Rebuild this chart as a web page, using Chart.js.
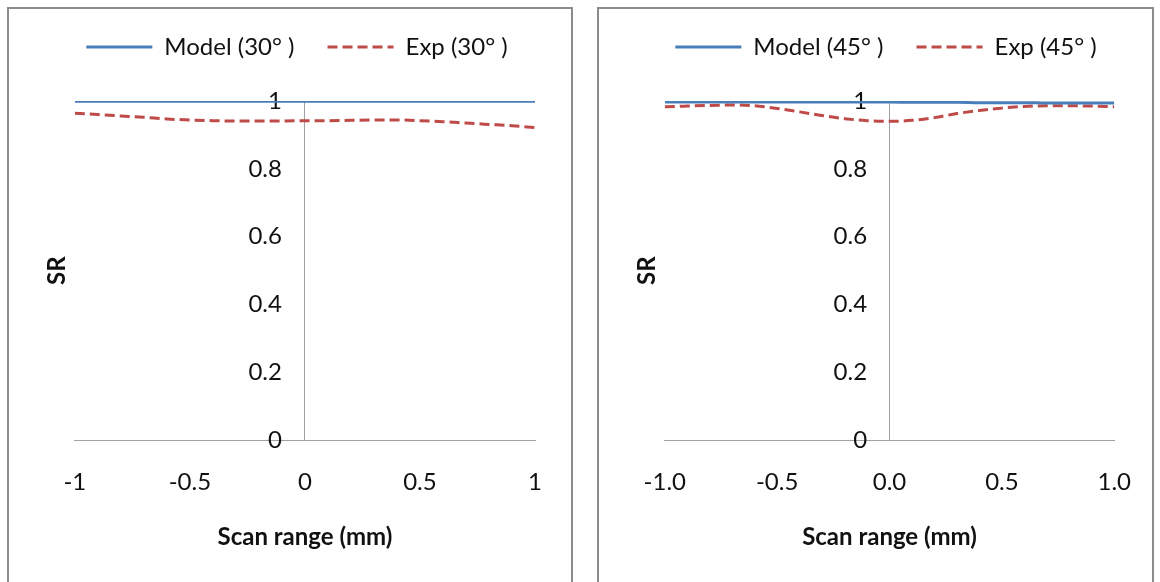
<!DOCTYPE html>
<html>
<head>
<meta charset="utf-8">
<script src="https://cdn.jsdelivr.net/npm/chart.js@4.4.1/dist/chart.umd.min.js"></script>
<style>
  html, body { margin: 0; padding: 0; background: #fff; width: 1160px; height: 582px; overflow: hidden; }
  .panel { position: absolute; top: 7px; height: 600px; border: 2px solid #8c8c8c; box-sizing: border-box; background: #fff; }
  #panel30 { left: 7px; width: 566px; }
  #panel45 { left: 597px; width: 557px; }
  .panel canvas { position: absolute; left: 0; top: 0; }
</style>
</head>
<body>
<div class="panel" id="panel30"><canvas id="chart30" width="562" height="573"></canvas></div>
<div class="panel" id="panel45"><canvas id="chart45" width="559" height="573"></canvas></div>
<script>
// Scan positions (mm)
const scanX = [-1.0, -0.9, -0.8, -0.7, -0.6, -0.5, -0.4, -0.3, -0.2, -0.1, 0.0,
               0.1, 0.2, 0.3, 0.4, 0.5, 0.6, 0.7, 0.8, 0.9, 1.0];

// SR at 30 degrees
const model30 = [0.999, 0.999, 0.999, 0.999, 0.999, 0.999, 0.999, 0.999, 0.999, 0.999, 0.999,
                 0.999, 0.999, 0.999, 0.999, 0.999, 0.999, 0.999, 0.999, 0.999, 0.999];
const exp30 = [0.964, 0.960, 0.956, 0.952, 0.947, 0.944, 0.942, 0.941, 0.941, 0.941, 0.942,
               0.942, 0.943, 0.944, 0.944, 0.942, 0.939, 0.935, 0.931, 0.927, 0.922];

// SR at 45 degrees
const model45 = [0.997, 0.997, 0.997, 0.997, 0.997, 0.997, 0.997, 0.997, 0.997, 0.997, 0.997,
                 0.996, 0.996, 0.996, 0.995, 0.995, 0.995, 0.994, 0.994, 0.994, 0.994];
const exp45 = [0.983, 0.985, 0.987, 0.988, 0.986, 0.978, 0.968, 0.957, 0.948, 0.942, 0.940,
               0.943, 0.951, 0.963, 0.972, 0.979, 0.984, 0.986, 0.986, 0.985, 0.983];

// Tick labels and series names
const xTicks30 = ['-1', '-0.5', '0', '0.5', '1'];
const xTicks45 = ['-1.0', '-0.5', '0.0', '0.5', '1.0'];
const yTicks = ['0', '0.2', '0.4', '0.6', '0.8', '1'];
const names30 = ['Model (30° )', 'Exp (30° )'];
const names45 = ['Model (45° )', 'Exp (45° )'];
const xTitle = 'Scan range (mm)';
const yTitle = 'SR';

// The value-axis labels sit a little to the left of the x = 0 axis line
const yLabelAt = -0.1;

const FONT = "Lato, 'Open Sans', sans-serif";
const TEXT = '#111111';
const AXIS = '#a0a0a0';
const BLUE = '#4a7ebb';
const RED = '#be4b48';

Chart.defaults.font.family = FONT;
Chart.defaults.color = TEXT;

// Moves the legend block after layout (Excel-style legend placement)
const legendNudge = {
  id: 'legendNudge',
  afterLayout(chart, args, opts) {
    const lg = chart.legend;
    if (!lg) return;
    const dx = opts.dx || 0, dy = opts.dy || 0;
    lg.left += dx; lg.right += dx;
    lg.top += dy; lg.bottom += dy;
  }
};

// Legend samples use each dataset's own line style (width, dash)
function lineLegendLabels(chart) {
  const items = Chart.defaults.plugins.legend.labels.generateLabels(chart);
  items.forEach(it => {
    const ds = chart.data.datasets[it.datasetIndex];
    it.lineDash = ds.borderDash || [];
    it.lineWidth = ds.borderWidth;
    it.strokeStyle = ds.borderColor;
    it.lineCap = 'butt';
  });
  return items;
}

function points(ys) {
  return scanX.map((x, i) => ({ x: x, y: ys[i] }));
}

function makeChart(id, model, exp, names, xTicks, padRight, nudge) {
  return new Chart(document.getElementById(id), {
    type: 'line',
    data: {
      datasets: [
        {
          label: names[0],
          data: points(model),
          borderColor: BLUE,
          backgroundColor: BLUE,
          borderWidth: 3,
          pointRadius: 0,
          cubicInterpolationMode: 'monotone'
        },
        {
          label: names[1],
          data: points(exp),
          borderColor: RED,
          backgroundColor: RED,
          borderWidth: 3,
          borderDash: [10, 5],
          pointRadius: 0,
          cubicInterpolationMode: 'monotone'
        }
      ]
    },
    options: {
      responsive: false,
      animation: false,
      events: [],
      layout: { padding: { left: 10, right: padRight, top: 25, bottom: 30 } },
      plugins: {
        legend: {
          position: 'top',
          labels: {
            usePointStyle: true,
            pointStyle: 'line',
            pointStyleWidth: 66,
            padding: 33,
            color: TEXT,
            font: { size: 24, family: FONT },
            generateLabels: lineLegendLabels
          }
        },
        tooltip: { enabled: false },
        legendNudge: nudge
      },
      scales: {
        x: {
          type: 'linear',
          position: 'bottom',
          min: -1,
          max: 1,
          grid: { display: false, drawTicks: false },
          border: { display: true, color: AXIS, width: 1 },
          ticks: {
            stepSize: 0.5,
            padding: 27,
            color: TEXT,
            font: { size: 24 },
            callback: (v, i) => xTicks[i]
          },
          title: {
            display: true,
            text: xTitle,
            color: TEXT,
            font: { size: 24, weight: 'bold' },
            padding: { top: 0, bottom: 0 }
          }
        },
        // axis line through x = 0
        y: {
          type: 'linear',
          position: { x: 0 },
          min: 0,
          max: 1,
          grid: { display: false, drawTicks: false },
          border: { display: true, color: AXIS, width: 1 },
          ticks: { display: false, stepSize: 0.2 }
        },
        // value labels for the same 0..1 range
        yLabels: {
          type: 'linear',
          axis: 'y',
          position: { x: yLabelAt },
          min: 0,
          max: 1,
          grid: { display: false, drawTicks: false },
          border: { display: false },
          ticks: {
            stepSize: 0.2,
            padding: 0,
            color: TEXT,
            font: { size: 24 },
            callback: (v, i) => yTicks[i]
          }
        },
        ySR: {
          type: 'linear',
          axis: 'y',
          position: 'left',
          min: 0,
          max: 1,
          grid: { display: false, drawTicks: false },
          border: { display: false },
          ticks: { display: false },
          title: {
            display: true,
            text: yTitle,
            color: TEXT,
            font: { size: 24, weight: 'bold' },
            padding: { top: 24, bottom: 3 }
          }
        }
      }
    },
    plugins: [legendNudge]
  });
}

makeChart('chart30', model30, exp30, names30, xTicks30, 36, { dx: 20, dy: -32 });
makeChart('chart45', model45, exp45, names45, xTicks45, 37, { dx: 21, dy: -32 });
</script>
</body>
</html>
